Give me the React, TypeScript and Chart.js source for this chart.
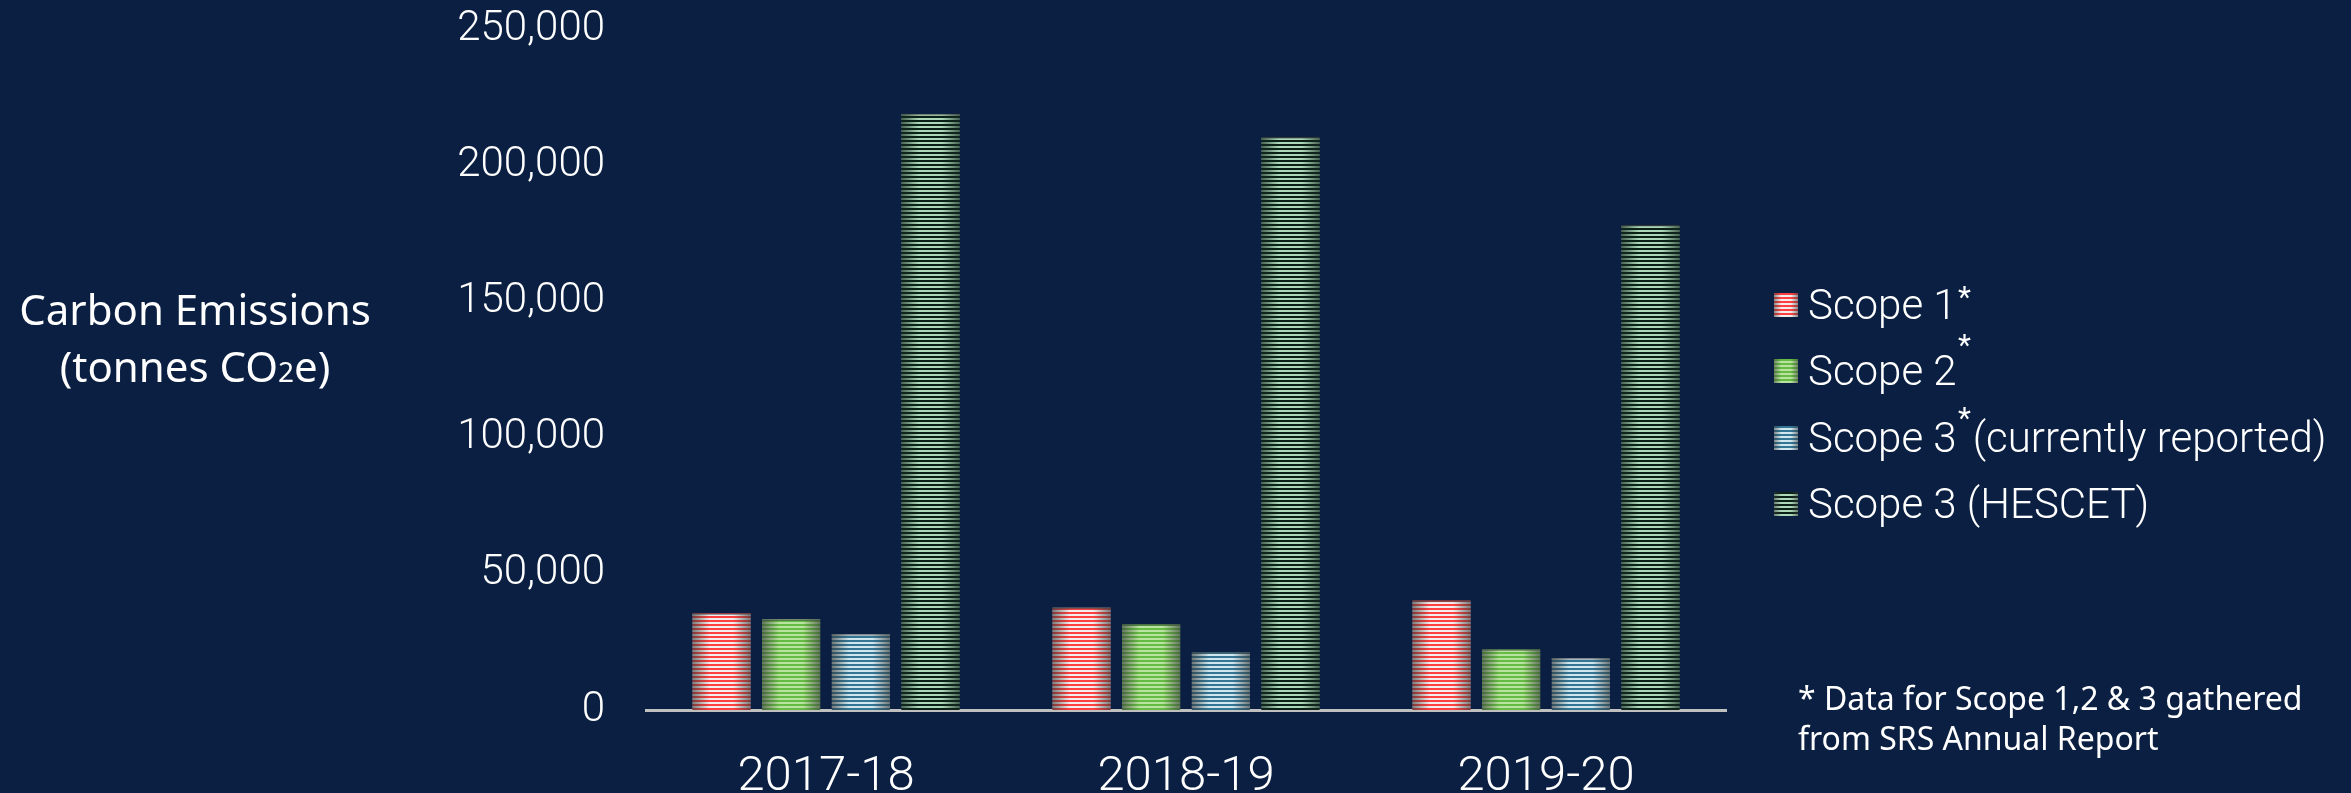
import React, { useEffect, useRef } from 'react';
import { Chart, registerables } from 'chart.js';

Chart.register(...registerables);

const categories = ['2017-18', '2018-19', '2019-20'];
const scope1Values = [35500, 37600, 40200];
const scope2Values = [33300, 31500, 22300];
const scope3ReportedValues = [27900, 21300, 19100];
const scope3HescetValues = [219000, 210500, 178200];
const yTickValues = [0, 50000, 100000, 150000, 200000, 250000];

const seriesLabels = ['Scope 1', 'Scope 2', 'Scope 3 (currently reported)', 'Scope 3 (HESCET)'];
const stripeColors: [string, string][] = [
  ['#ff4040', '#f5eded'],
  ['#66bc42', '#b9e3a0'],
  ['#327594', '#d2e6ee'],
  ['#0a2016', '#acd7b8'],
];

const BG = '#0a1f41';

function makeStripePattern(ctx: CanvasRenderingContext2D, a: string, b: string) {
  const c = document.createElement('canvas');
  c.width = 4;
  c.height = 4;
  const g = c.getContext('2d')!;
  g.fillStyle = a;
  g.fillRect(0, 0, 4, 2);
  g.fillStyle = b;
  g.fillRect(0, 2, 4, 2);
  return ctx.createPattern(c, 'repeat') as CanvasPattern;
}

const shadePlugin = {
  id: 'barShade',
  afterDatasetsDraw(chart: any) {
    const ctx: CanvasRenderingContext2D = chart.ctx;
    ctx.save();
    chart.data.datasets.forEach((_ds: any, i: number) => {
      const meta = chart.getDatasetMeta(i);
      const edge = i === 3 ? 'rgba(20,40,30,' : 'rgba(55,60,60,';
      meta.data.forEach((bar: any) => {
        const { x, y, base, width } = bar.getProps(['x', 'y', 'base', 'width'], true);
        const l = x - width / 2;
        const g = ctx.createLinearGradient(l, 0, l + width, 0);
        g.addColorStop(0, edge + '0.65)');
        g.addColorStop(0.3, edge + '0)');
        g.addColorStop(0.7, edge + '0)');
        g.addColorStop(1, edge + '0.65)');
        ctx.fillStyle = g;
        ctx.fillRect(l, y, width, base - y);
        ctx.fillStyle = 'rgba(70,75,75,0.6)';
        ctx.fillRect(l, y, width, 1.5);
      });
    });
    ctx.restore();
  },
};

const legendRows = [
  { label: 'Scope 1', center: 304.5, starTop: 282 },
  { label: 'Scope 2', center: 371, starTop: 330 },
  { label: 'Scope 3', rest: '(currently reported)', center: 437.5, starTop: 403 },
  { label: 'Scope 3 (HESCET)', center: 504 },
];

function legendBoxStyle(i: number): React.CSSProperties {
  const [a, b] = stripeColors[i];
  return {
    width: 24,
    height: 24,
    flex: '0 0 auto',
    marginRight: 10,
    background:
      'linear-gradient(to right, rgba(55,60,60,0.55), rgba(55,60,60,0) 30%, rgba(55,60,60,0) 70%, rgba(55,60,60,0.55)),' +
      `repeating-linear-gradient(to bottom, ${a} 0px, ${a} 2px, ${b} 2px, ${b} 4px)`,
  };
}

export default function App() {
  const canvasRef = useRef<HTMLCanvasElement | null>(null);

  useEffect(() => {
    const canvas = canvasRef.current!;
    const ctx = canvas.getContext('2d')!;
    const patterns = stripeColors.map(([a, b]) => makeStripePattern(ctx, a, b));
    const seriesValues = [scope1Values, scope2Values, scope3ReportedValues, scope3HescetValues];

    const chart = new Chart(ctx, {
      type: 'bar',
      data: {
        labels: categories,
        datasets: seriesValues.map((vals, i) => ({
          label: seriesLabels[i],
          data: vals,
          backgroundColor: patterns[i],
          borderWidth: 0,
          categoryPercentage: 0.774,
          barPercentage: 0.832,
        })),
      },
      options: {
        responsive: false,
        animation: false,
        layout: { padding: { left: 0, right: 625, top: 0, bottom: 0 } },
        plugins: { legend: { display: false }, tooltip: { enabled: false } },
        scales: {
          x: {
            grid: { display: false, drawTicks: false },
            border: { display: true, color: '#c0c0c0', width: 3 },
            ticks: {
              color: '#ffffff',
              font: { family: 'Roboto', weight: '300', size: 49 },
              padding: 38,
              maxRotation: 0,
            },
            afterFit(scale: any) {
              scale.height = 83;
            },
          },
          y: {
            min: 0,
            max: 250000,
            grid: { display: false, drawTicks: false },
            border: { display: false },
            afterBuildTicks(scale: any) {
              scale.ticks = yTickValues.map((v) => ({ value: v }));
            },
            ticks: {
              color: '#ffffff',
              font: { family: 'Roboto', weight: '300', size: 42 },
              padding: 41,
              callback: (v: any) => Number(v).toLocaleString('en-US'),
            },
            afterFit(scale: any) {
              scale.width = 646;
              scale.paddingTop = 29.5;
              scale.paddingBottom = 0;
            },
          },
        },
      },
      plugins: [shadePlugin],
    });
    return () => chart.destroy();
  }, []);

  const legendText: React.CSSProperties = {
    fontFamily: 'Roboto',
    fontWeight: 300,
    fontSize: 42,
    color: '#ffffff',
    whiteSpace: 'nowrap',
  };

  return (
    <div
      style={{
        position: 'fixed',
        left: 0,
        top: 0,
        width: 2351,
        height: 793,
        background: BG,
        overflow: 'hidden',
      }}
    >
      <canvas ref={canvasRef} width={2351} height={793} style={{ position: 'absolute', left: 0, top: 0 }} />

      <div
        style={{
          position: 'absolute',
          left: 0,
          top: 280,
          width: 390,
          textAlign: 'center',
          fontFamily: '"Noto Sans"',
          fontSize: 42,
          lineHeight: '57px',
          color: '#ffffff',
          whiteSpace: 'nowrap',
        }}
      >
        <div>Carbon Emissions</div>
        <div>
          (tonnes CO<span style={{ fontSize: 28 }}>2</span>e)
        </div>
      </div>

      {legendRows.map((row, i) => (
        <div
          key={i}
          style={{
            position: 'absolute',
            left: 1774,
            top: row.center - 25,
            height: 50,
            display: 'flex',
            alignItems: 'center',
            ...legendText,
            lineHeight: '50px',
          }}
        >
          <div style={legendBoxStyle(i)} />
          <span>{row.label}</span>
          {row.rest ? <span style={{ marginLeft: 16 }}>{row.rest}</span> : null}
        </div>
      ))}
      {legendRows
        .filter((r) => r.starTop !== undefined)
        .map((row, i) => (
          <span
            key={'s' + i}
            style={{
              position: 'absolute',
              left: 1958,
              top: row.starTop,
              fontFamily: 'Roboto',
              fontSize: 30,
              lineHeight: '30px',
              color: '#ffffff',
            }}
          >
            *
          </span>
        ))}

      <div
        style={{
          position: 'absolute',
          left: 1798,
          top: 678,
          fontFamily: '"Noto Sans"',
          fontSize: 32,
          lineHeight: '40px',
          color: '#ffffff',
          whiteSpace: 'nowrap',
        }}
      >
        <div>* Data for Scope 1,2 &amp; 3 gathered</div>
        <div>from SRS Annual Report</div>
      </div>
    </div>
  );
}
